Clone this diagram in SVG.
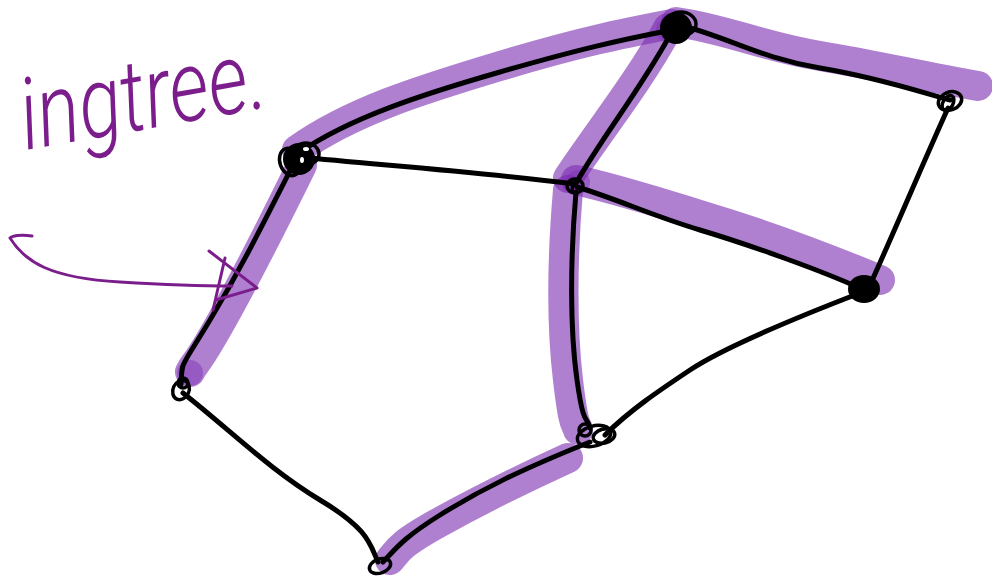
<svg xmlns="http://www.w3.org/2000/svg" width="992" height="582" viewBox="0 0 992 582">
<style>
.hl{fill:none;stroke:#7b2bb1;stroke-opacity:0.6;stroke-width:30;stroke-linecap:round;stroke-linejoin:round}
.ed{fill:none;stroke:#000;stroke-width:5;stroke-linecap:round;stroke-linejoin:round}
.nd{fill:none;stroke:#000;stroke-width:3.5}
.dk{fill:#000}
.ink{fill:none;stroke:#7b1e8b;stroke-width:3;stroke-linecap:round;stroke-linejoin:round}
.lbl{font-family:Roboto,"Liberation Sans",Arial,sans-serif;font-weight:300;font-size:100px;fill:#7b1e8b;font-style:italic}
</style>
<rect width="992" height="582" fill="#fff"/>
<g id="highlights">
<path class="hl" d="M297,150 C350,112 420,90 500,66 S620,34 672,24"/>
<path class="hl" d="M676,22 C730,30 760,46 820,56 S920,76 978,86"/>
<path class="hl" d="M668,28 C640,80 600,130 568,178"/>
<path class="hl" d="M576,180 C620,190 650,200 700,215 S820,255 880,280"/>
<path class="hl" d="M568,190 C562,260 562,330 568,380 S575,420 578,430"/>
<path class="hl" d="M568,458 C520,480 480,500 440,522 S398,550 390,560"/>
<path class="hl" d="M302,165 C270,230 250,270 222,320 S196,360 190,372"/>
<circle cx="190" cy="373" r="13" fill="#7b2bb1" fill-opacity="0.45"/>
<circle cx="668" cy="30" r="12" fill="#7b2bb1" fill-opacity="0.4"/>
<circle cx="578" cy="182" r="12" fill="#7b2bb1" fill-opacity="0.4"/>
</g>
<g id="connectors">
<path class="ed" d="M300,152 C350,118 420,95 500,72 S620,40 672,30"/>
<path class="ed" d="M680,25 C730,38 760,58 820,68 S920,92 950,100"/>
<path class="ed" d="M300,157 C380,165 480,172 575,184"/>
<path class="ed" d="M670,35 C640,90 600,140 575,185"/>
<path class="ed" d="M577,187 C620,200 650,215 700,230 S820,270 862,289"/>
<path class="ed" d="M948,108 C920,170 895,230 870,285"/>
<path class="ed" d="M293,165 C260,230 240,270 210,320 S182,360 181,385"/>
<path class="ed" d="M576,192 C570,260 570,330 577,380 S587,415 590,428"/>
<path class="ed" d="M860,293 C790,320 720,350 690,370 S630,410 605,435"/>
<path class="ed" d="M183,393 C230,430 270,470 320,500 S370,545 378,562"/>
<path class="ed" d="M590,442 C520,470 480,490 440,515 S395,550 383,562"/>
</g>
<g id="node-A">
<ellipse class="dk" cx="299" cy="159" rx="16" ry="16"/>
<ellipse class="nd" cx="290" cy="162" rx="10" ry="14" transform="rotate(-20 290 162)"/>
<ellipse class="nd" cx="306" cy="154" rx="13" ry="11"/>
<ellipse cx="306" cy="149" rx="3" ry="2" fill="#fff"/>
<ellipse cx="302" cy="160" rx="2" ry="3" fill="#fff"/>
</g>
<g id="node-B">
<ellipse class="dk" cx="676" cy="28" rx="16" ry="16"/>
<ellipse class="nd" cx="681" cy="24" rx="15" ry="12"/>
</g>
<g id="node-C">
<ellipse class="nd" cx="950" cy="101" rx="12" ry="9" transform="rotate(-20 950 101)"/>
<ellipse class="nd" cx="948" cy="103" rx="5" ry="8" transform="rotate(30 948 103)" stroke-width="2.5"/>
</g>
<g id="node-D">
<ellipse class="nd" cx="575" cy="186" rx="8" ry="7"/>
<path class="nd" stroke-width="2" d="M573,183 L572,191"/>
</g>
<g id="node-E">
<ellipse class="dk" cx="864" cy="289" rx="16" ry="14"/>
</g>
<g id="node-F">
<ellipse class="nd" cx="181" cy="390" rx="8" ry="10" transform="rotate(25 181 390)"/>
<ellipse class="nd" cx="183" cy="383" rx="5" ry="5" stroke-width="2.5"/>
</g>
<g id="node-G">
<ellipse class="nd" cx="594" cy="436" rx="17" ry="10" transform="rotate(-15 594 436)" stroke-width="5"/>
<ellipse class="nd" cx="604" cy="436" rx="11" ry="7" transform="rotate(-15 604 436)"/>
<ellipse class="nd" cx="585" cy="430" rx="6" ry="6" stroke-width="3"/>
</g>
<g id="node-H">
<ellipse class="nd" cx="380" cy="566" rx="11" ry="7" transform="rotate(-20 380 566)"/>
</g>
<g id="annotation">
<text class="lbl" x="26" y="150" transform="rotate(-10 26 150)" textLength="248" lengthAdjust="spacingAndGlyphs">ingtree.</text>
<path class="ink" d="M32,236 C20,234 12,236 10,238 C25,262 50,278 120,282 C170,285 200,286 232,286"/>
<path class="ink" d="M209,251 L257,288 L216,300 M225,258 L213,310"/>
</g>
</svg>
